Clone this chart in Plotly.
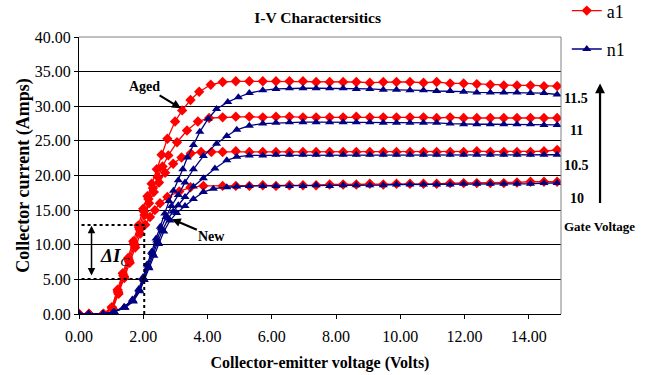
import plotly.graph_objects as go

# ---------------- data ----------------
FLAT_V = [4.47, 4.88, 5.30, 5.72, 6.13, 6.55, 6.97, 7.38, 7.80, 8.22, 8.63, 9.05, 9.47,
          9.88, 10.30, 10.72, 11.13, 11.55, 11.97, 12.38, 12.80, 13.22, 13.63, 14.05, 14.47, 14.88]

# Aged device (a1), gate 11.5 / 11 / 10.5 / 10 V
a115_v = [0, 0.31, 0.76, 1.02, 1.20, 1.36, 1.53, 1.69, 1.85, 2.00, 2.13, 2.26, 2.42, 2.57, 2.75,
          2.99, 3.21, 3.47, 3.74, 4.10] + FLAT_V
a115_i = [0, 0, 0, 1.0, 3.5, 5.9, 8.1, 10.5, 12.8, 15.2, 17.0, 18.8, 20.9, 23.0, 25.3, 27.8, 29.4,
          30.9, 32.1, 33.1,
          33.5, 33.6, 33.6, 33.6, 33.6, 33.6, 33.6, 33.5, 33.5, 33.5, 33.5, 33.4, 33.5, 33.5, 33.5,
          33.4, 33.5, 33.3, 33.3, 33.2, 33.1, 33.0, 33.0, 33.0, 32.9, 32.9]

a11_v = [0, 0.31, 0.76, 1.03, 1.21, 1.38, 1.55, 1.71, 1.87, 2.02, 2.16, 2.30, 2.45, 2.60, 2.78,
         3.05, 3.36, 3.70, 4.05] + FLAT_V
a11_i = [0, 0, 0, 0.9, 3.3, 5.6, 7.8, 10.2, 12.5, 14.8, 16.6, 18.2, 19.8, 21.3, 22.9, 24.8, 26.5,
         27.8, 28.3,
         28.4, 28.5, 28.5, 28.4, 28.5, 28.5, 28.4, 28.4, 28.4, 28.4, 28.5, 28.4, 28.4, 28.4, 28.4,
         28.4, 28.3, 28.4, 28.3, 28.3, 28.3, 28.3, 28.3, 28.3, 28.3, 28.3]

a105_v = [0, 0.31, 0.76, 1.04, 1.22, 1.40, 1.56, 1.73, 1.89, 2.04, 2.18, 2.33, 2.49, 2.68, 2.93,
          3.19, 3.48, 3.80, 4.12] + FLAT_V
a105_i = [0, 0, 0, 0.8, 3.1, 5.4, 7.6, 9.9, 12.2, 14.3, 16.0, 17.6, 19.0, 20.4, 21.7, 22.6, 23.2,
          23.4, 23.4,
          23.4, 23.5, 23.4, 23.4, 23.4, 23.4, 23.4, 23.4, 23.4, 23.4, 23.4, 23.4, 23.4, 23.4, 23.4,
          23.4, 23.4, 23.4, 23.4, 23.5, 23.4, 23.4, 23.4, 23.4, 23.5, 23.7]

a10_v = [0, 0.31, 0.76, 1.05, 1.23, 1.41, 1.58, 1.75, 1.91, 2.06, 2.21, 2.36, 2.52, 2.75, 3.12,
         3.47, 3.87] + FLAT_V
a10_i = [0, 0, 0, 0.7, 2.9, 5.2, 7.4, 9.6, 11.6, 12.9, 14.0, 15.0, 16.0, 16.9, 17.7, 18.3, 18.5,
         18.5, 18.5, 18.5, 18.6, 18.5, 18.6, 18.6, 18.6, 18.7, 18.7, 18.7, 18.8, 18.7, 18.8, 18.8,
         18.8, 18.8, 18.9, 18.9, 18.9, 18.9, 18.9, 19.0, 19.1, 19.1, 19.1]

# New device (n1)
n115_v = [0, 0.30, 0.75, 1.07, 1.40, 1.66, 1.86, 1.99, 2.12, 2.26, 2.40, 2.53, 2.67, 2.80, 2.94,
          3.09, 3.23, 3.37, 3.56, 3.76, 4.02, 4.28, 4.63, 4.96, 5.30] + FLAT_V[3:]
n115_i = [0, 0, 0, 0.3, 1.0, 2.1, 3.6, 5.3, 7.2, 9.0, 10.9, 12.6, 14.5, 16.3, 17.8, 19.3, 20.9,
          22.6, 24.4, 26.3, 28.2, 29.6, 30.6, 31.3, 31.9,
          32.3, 32.5, 32.6, 32.6, 32.6, 32.6, 32.6, 32.5, 32.5, 32.4, 32.4, 32.3, 32.3, 32.2, 32.2,
          32.1, 32.0, 32.0, 32.0, 32.0, 31.9, 31.9, 31.7]

n11_v = [0, 0.30, 0.75, 1.08, 1.41, 1.67, 1.87, 2.00, 2.14, 2.28, 2.42, 2.56, 2.71, 2.88, 3.09,
         3.30, 3.56, 3.87, 4.28, 4.60, 4.91, 5.30] + FLAT_V[3:]
n11_i = [0, 0, 0, 0.3, 1.0, 2.0, 3.5, 5.1, 7.0, 8.8, 10.6, 12.4, 14.0, 15.6, 17.2, 19.0, 20.9,
         22.8, 24.6, 25.7, 26.6, 27.2,
         27.5, 27.6, 27.7, 27.7, 27.7, 27.7, 27.7, 27.7, 27.7, 27.6, 27.6, 27.6, 27.6, 27.6, 27.5,
         27.4, 27.4, 27.4, 27.4, 27.4, 27.4, 27.3, 27.3]

n105_v = [0, 0.30, 0.75, 1.09, 1.42, 1.68, 1.88, 2.02, 2.16, 2.30, 2.45, 2.60, 2.78, 2.93, 3.09,
          3.30, 3.56, 3.87, 4.23, 4.60, 4.91, 5.30] + FLAT_V[3:]
n105_i = [0, 0, 0, 0.3, 0.9, 1.9, 3.4, 5.0, 6.8, 8.6, 10.4, 12.1, 13.8, 14.8, 15.7, 16.9, 18.4,
          19.6, 21.0, 22.2, 22.7, 22.9,
          22.9, 23.0, 23.0, 23.0, 23.0, 23.0, 23.0, 23.0, 23.0, 23.0, 23.0, 23.0, 23.0, 23.0, 23.0,
          23.0, 23.0, 23.0, 23.0, 23.0, 23.0, 23.0, 23.0]

n10_v = [0, 0.30, 0.75, 1.10, 1.43, 1.69, 1.89, 2.03, 2.18, 2.33, 2.48, 2.64, 2.83, 3.04, 3.30,
         3.56, 3.87, 4.18, 4.60, 4.91, 5.30] + FLAT_V[3:]
n10_i = [0, 0, 0, 0.3, 0.9, 1.8, 3.3, 4.9, 6.6, 8.4, 10.1, 11.9, 13.5, 14.6, 15.6, 16.6, 17.6,
         18.1, 18.3, 18.4, 18.5,
         18.5, 18.5, 18.5, 18.5, 18.6, 18.5, 18.6, 18.6, 18.6, 18.6, 18.7, 18.7, 18.7, 18.7, 18.7,
         18.8, 18.8, 18.8, 18.8, 18.8, 18.8, 18.9, 18.9]

gate_labels = ["11.5", "11", "10.5", "10"]
gate_label_y = [31.1, 26.5, 21.4, 16.7]

delta_upper = 12.85
delta_lower = 5.05
delta_v = 2.03

SERIF = "Liberation Serif"
RED = "#FF0000"
NAVY = "#000080"

fig = go.Figure()

aged = [(a115_v, a115_i), (a11_v, a11_i), (a105_v, a105_i), (a10_v, a10_i)]
new = [(n115_v, n115_i), (n11_v, n11_i), (n105_v, n105_i), (n10_v, n10_i)]

for k, (v, i) in enumerate(aged):
    fig.add_trace(go.Scatter(x=v, y=i, mode="lines+markers", name="a1", legendgroup="a",
                             showlegend=(k == 0),
                             line=dict(color=RED, width=1.3),
                             marker=dict(symbol="diamond", size=8, color=RED)))
for k, (v, i) in enumerate(new):
    fig.add_trace(go.Scatter(x=v, y=i, mode="lines+markers", name="n1", legendgroup="n",
                             showlegend=(k == 0),
                             line=dict(color=NAVY, width=1.3),
                             marker=dict(symbol="triangle-up", size=8, color=NAVY)))

# dotted Delta-Ic construction
dot = dict(color="black", width=2, dash="dot")
fig.add_shape(type="line", x0=0.08, x1=delta_v + 0.07, y0=delta_upper, y1=delta_upper, line=dot)
fig.add_shape(type="line", x0=0.08, x1=delta_v + 0.07, y0=delta_lower, y1=delta_lower, line=dot)
fig.add_shape(type="line", x0=delta_v, x1=delta_v, y0=0, y1=delta_upper, line=dot)

# grey top / right frame
fig.add_shape(type="line", xref="paper", yref="paper", x0=0, x1=1, y0=1, y1=1,
              line=dict(color="#808080", width=1), layer="above")
fig.add_shape(type="line", xref="paper", yref="paper", x0=1, x1=1, y0=0, y1=1,
              line=dict(color="#808080", width=1), layer="above")

# double arrow for Delta Ic
fig.add_annotation(x=0.39, y=delta_upper - 0.1, ax=0.39, ay=delta_lower + 0.3,
                   xref="x", yref="y", axref="x", ayref="y", text="", showarrow=True,
                   arrowhead=2, startarrowhead=2, arrowside="end+start", arrowwidth=1.5,
                   arrowsize=1, startarrowsize=1, arrowcolor="black")
fig.add_annotation(x=0.6, y=8.3, xref="x", yref="y", xanchor="left", showarrow=False,
                   text="<b><i>ΔI</i></b><sub><i>C</i></sub>",
                   font=dict(family=SERIF, size=19, color="black"))

# Aged / New callouts
fig.add_annotation(x=3.17, y=29.7, ax=-36, ay=-22, text="<b>Aged</b>", showarrow=True,
                   arrowhead=2, arrowwidth=2.2, arrowsize=0.8, arrowcolor="black",
                   font=dict(family=SERIF, size=14, color="black"))
fig.add_annotation(x=2.89, y=13.7, ax=40, ay=17, text="<b>New</b>", showarrow=True,
                   arrowhead=2, arrowwidth=2.2, arrowsize=0.8, arrowcolor="black",
                   font=dict(family=SERIF, size=14, color="black"))

# gate voltage labels on the right
for lab, yy in zip(gate_labels, gate_label_y):
    fig.add_annotation(x=1.003 if "." in lab else 1.015, y=yy, xref="paper", yref="y",
                       xanchor="left", showarrow=False, text="<b>" + lab + "</b>",
                       font=dict(family=SERIF, size=14, color="black"))
fig.add_annotation(x=1.003, y=12.6, xref="paper", yref="y", xanchor="left", showarrow=False,
                   text="<b>Gate Voltage</b>", font=dict(family=SERIF, size=13, color="black"))
fig.add_annotation(x=1.081, y=33.3, xref="paper", yref="y", ax=0, ay=121, text="",
                   showarrow=True, arrowhead=2, arrowwidth=2.2, arrowsize=0.9, arrowcolor="black")

fig.update_layout(
    width=655, height=375,
    margin=dict(l=79, r=94, t=37, b=61, autoexpand=False),
    paper_bgcolor="white", plot_bgcolor="white",
    font=dict(family=SERIF, color="black"),
    title=dict(text="<b>I-V Charactersitics</b>", x=0.485, xanchor="center", y=0.952,
               yanchor="middle", font=dict(family=SERIF, size=15.5, color="black")),
    showlegend=True,
    legend=dict(x=1.012, y=1.161, xanchor="left", yanchor="top", traceorder="grouped",
                tracegroupgap=12, font=dict(family=SERIF, size=18, color="black"),
                bgcolor="rgba(0,0,0,0)", itemwidth=30),
    xaxis=dict(range=[0, 15], tickvals=[0, 2, 4, 6, 8, 10, 12, 14], tickformat=".2f",
               showgrid=False, zeroline=False, showline=True, linecolor="black", linewidth=1,
               ticks="outside", ticklen=4, tickcolor="black", ticklabelstandoff=4,
               tickfont=dict(family=SERIF, size=16, color="black"),
               title=dict(text="<b>Collector-emitter voltage (Volts)</b>", standoff=12,
                          font=dict(family=SERIF, size=16, color="black"))),
    yaxis=dict(range=[0, 40], dtick=5, tickformat=".2f",
               showgrid=True, gridcolor="black", gridwidth=1, zeroline=False,
               showline=True, linecolor="black", linewidth=1,
               ticks="outside", ticklen=4, tickcolor="black",
               tickfont=dict(family=SERIF, size=16, color="black"),
               title=dict(text="<b>Collector current (Amps)</b>", standoff=0,
                          font=dict(family=SERIF, size=18, color="black"))),
)

fig.write_html("out.html")
